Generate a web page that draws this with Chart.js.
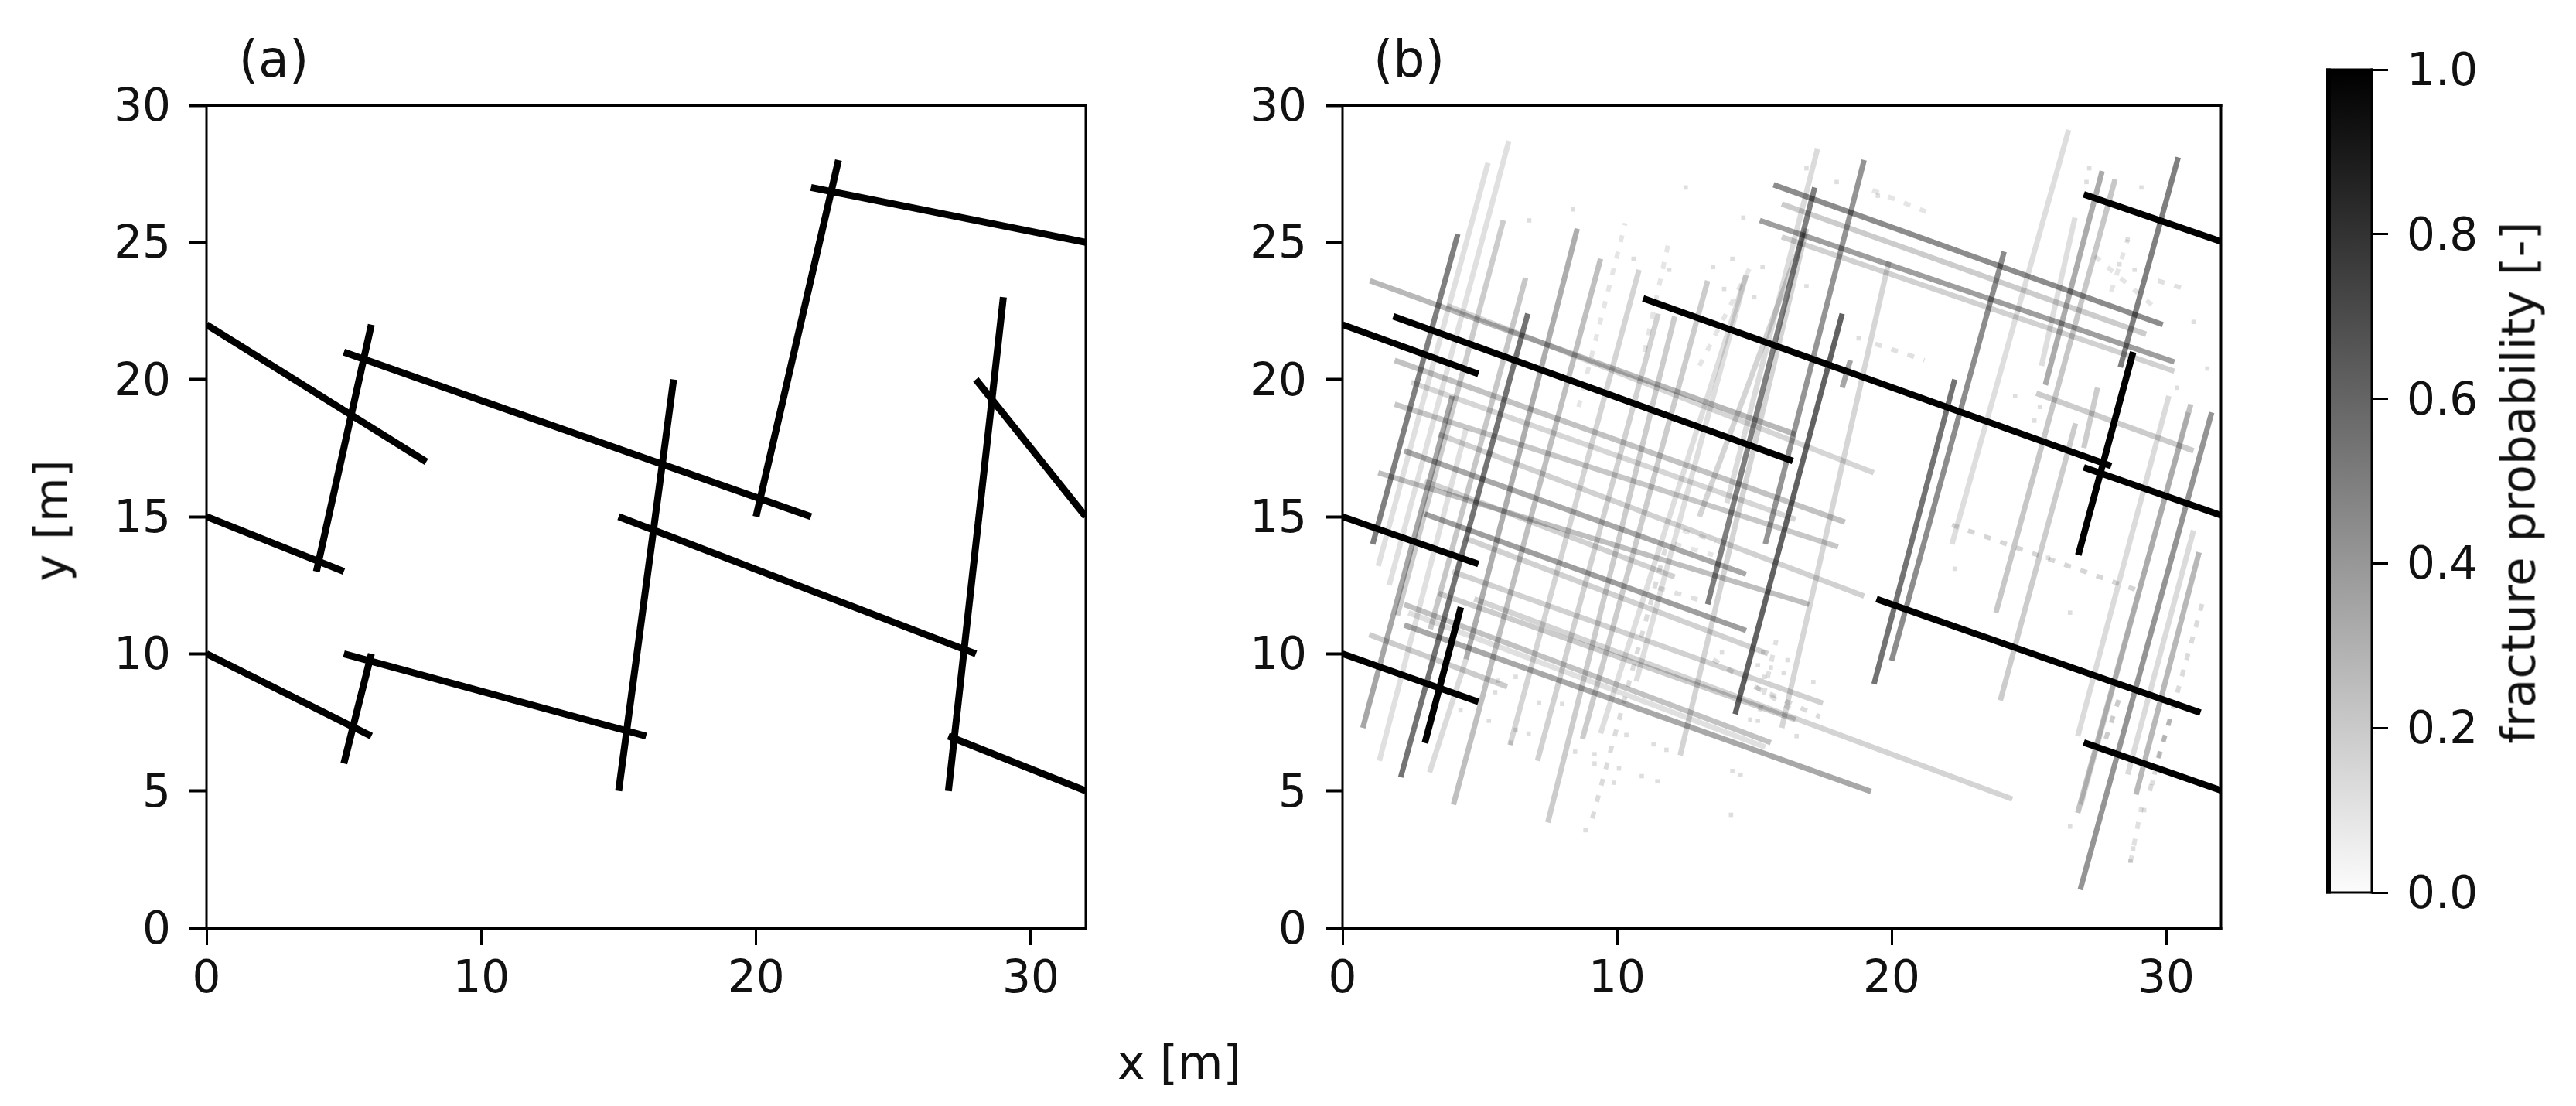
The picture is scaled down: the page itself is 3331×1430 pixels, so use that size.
<!DOCTYPE html>
<html><head><meta charset="utf-8">
<script src="https://cdn.jsdelivr.net/npm/chart.js@4"></script>
<style>
html,body{margin:0;padding:0;background:#fff;width:3331px;height:1430px;overflow:hidden}
canvas{position:absolute;top:0}
.lbl{position:absolute;font-family:"DejaVu Sans";color:#111;white-space:nowrap;transform:translate(-50%,-50%)}
.rot{transform:translate(-50%,-50%) rotate(-90deg)}
</style></head><body>
<canvas id="a" style="left:0"></canvas>
<canvas id="b" style="left:1500px"></canvas>
<canvas id="c" style="left:2900px"></canvas>
<div class="lbl" style="left:354px;top:76px;font-size:65px">(a)</div>
<div class="lbl" style="left:1822px;top:76px;font-size:65px">(b)</div>
<div class="lbl" style="left:1525px;top:1374px;font-size:60px">x [m]</div>
<div class="lbl rot" style="left:66px;top:673px;font-size:59px">y [m]</div>
<div class="lbl rot" style="left:3256px;top:624px;font-size:61px">fracture probability [-]</div>
<script>
const xTicksMax = 32, yTicksMax = 30;
const colorbarTicks = [0,0.2,0.4,0.6,0.8,1];

// panel (a): x1,y1,x2,y2
const fracturesA = [
 [0,22,8,17],[5,21,22,15],[15,15,28,10],[0,15,5,13],[0,10,6,7],[5,10,16,7],[27,7,32,5],[22,27,32,25],[28,20,32,15],
 [4,13,6,22],[5,6,6,10],[15,5,17,20],[20,15,23,28],[27,5,29,23]
];
// panel (b): x1,y1,x2,y2,probability
const certainB = [
 [0,22,4.95,20.2,1],[1.85,22.3,16.4,17.03,1],[10.95,22.96,28,16.85,1],[27,26.75,32,25.03,1],[27,16.8,32,15.05,1],
 [19.45,12,31.25,7.85,1],[27,6.77,32,5.02,1],[0,15,4.95,13.27,1],[0,10,4.95,8.25,1],
 [3,6.75,4.31,11.7,1],[26.8,13.6,28.8,21,1]
];
const steepB = [
 [1.1,14,4.2,25.3,.5],[2.12,5.5,6.75,22.4,.55],[0.74,7.3,4,19.4,.35],[4.5,9.8,8.55,25.5,.32],[3.17,5.68,4.5,9.8,.14],[4.04,4.5,9.4,24.4,.25],
 [7.48,3.85,12.1,22.3,.2],[7.1,6.1,11.5,22.4,.18],[6.1,6.67,10.8,24,.17],[8.74,6.9,13.3,23.6,.2],[9.4,7.1,14.7,23.8,.13],[10.7,9,14.7,23.8,.13],
 [12.3,6.3,16.9,25.5,.17],[13.3,11.8,17.2,27,.5],[14.3,7.8,18.2,22.4,.62],
 [15.4,14,19,28,.42],[16,7.3,19.9,24.3,.16],[18.2,19.7,18.5,20.7,.35],[14,15.5,17.3,28.4,.14],[1.7,12.5,6.06,28.7,.12],
 [1.3,13.2,5.3,27.9,.12],[2,11.4,5.86,25.8,.2],[3.2,10.9,6.67,23.7,.22],[1.34,6.1,4.5,18.2,.12],
 [13,15,16.85,25.4,.17],
 [28.33,20.45,30.44,28.1,.5],[25.6,19.8,27.67,27.6,.33],[23.8,11.5,28.14,27.3,.22],[22.2,14,26.45,29.1,.13],
 [23.96,8.3,26.7,18.4,.2],[27,17.5,27.5,19.7,.2],[25.46,20.5,26.68,25.9,.13],[19.36,8.9,22.3,20,.55],[20,9.75,24.1,24.66,.45],
 [26.87,1.4,31.66,18.8,.42],[26.78,4.2,30.9,19.1,.24],[26.9,4.5,30.8,18.8,.12],[28.9,4.87,31.2,13.7,.28],[26.78,7,30.1,19.4,.14],[28.6,5.6,31,14.5,.14]
];
const shallowB = [
 [15.7,27.1,29.88,22,.45],[16,26.4,29.27,21.65,.2],[15.2,25.8,30.3,20.64,.38],[16,25.2,30.3,20.3,.18],[1,23.6,16.5,18,.28],
 [3.8,22.7,19.35,16.6,.16],[3,21.9,16,17.2,.16],[1.9,20.7,18.3,14.8,.24],[2.5,19.9,16.5,14.9,.16],[1.9,19.1,18.05,13.9,.22],[2.25,17.4,14.7,12.9,.34],[1.3,16.6,17,11.8,.25],
 [3,16.3,12.1,12.8,.18],[3,15.1,14.7,10.85,.38],[3.5,18,19,12.1,.18],[2.25,11.05,19.25,4.98,.34],[2.25,11.8,15.6,6.76,.24],[2.4,11.5,15.4,6.6,.12],[0.97,10.7,6,8.8,.2],
 [4.8,12,24.4,4.7,.17],[4.5,14.2,15.5,10,.18],[4,13,17.5,8.2,.18],[3.5,12.2,16.5,7.6,.2],[25.27,19.5,31,17.4,.2]
];
// faint, broken traces of panel (b)
const brokenB = [
 [8.6,19,10.3,25.7,.1],[11,21,11.9,25.1,.1],[13,20.5,14.9,24.2,.1],[19.3,26.9,21.3,26.1,.1],[19.4,21.3,21.2,20.7,.12],
 [29.7,23.6,30.7,23.3,.12],[27.4,24.5,29.5,22.7,.1],[28,23.2,28.6,25.1,.1],[27.8,6.9,28.3,8.4,.2],[29.7,6.2,30.2,7.8,.18],
 [28.7,2.4,29.1,4.4,.12],[15.2,7.9,15.8,10.5,.12],[9.1,4,11.8,14,.14],[29.4,5,31.38,12.06,.14],[22.2,14.7,29,12.3,.16],
 [11.5,12.4,13.2,11.9,.12],[12.4,14.5,13.6,14.1,.1],[12.1,14,13.5,13.6,.1],[13.5,9.8,16.3,8,.12],[15,8.8,17.4,7.7,.14]
];
// isolated faint cells of panel (b): x,y
const cellsB = [
 [5.66,9.02],[6.31,9.16],[5.56,8.6],[7.16,8.22],[8,8.17],[6.31,7.23],[6.13,6.76],[6.78,7.09],[8.47,6.43],[9.18,6.34],[9.18,6],[10.07,5.82],[9.88,5.3],[8.85,3.57],[5.33,7.56],[4.3,7.94],
 [10.34,7.04],[11.33,6.7],[11.8,6.5],[10.9,5.54],[11.47,5.35],[14.2,5.73],[14.5,5.59],[14.15,4.13],[16.54,7],[17.15,8.97],[14.85,7.6],[15.13,7.56],[15.37,9.16],[15.6,9.5],[15.32,10.05],[15.13,9.58],[13.82,10.05],[16.07,9.3],[16.21,9.77],
 [18,27.2],[16.9,27.7],[14.6,25.9],[12.5,27],[13.5,24.1],[13.9,23.3],[10.6,24.4],[11.9,24],[14.2,24.4],[15.3,24.1],[15,23],[16.9,23.4],[8.4,26.2],[6.8,25.8],[19.5,26.7],[18.8,21.5],
 [27.2,27.7],[27.1,27.2],[29.1,27],[28.6,25.1],[28.3,24.2],[28.85,24],[31,22.1],[31.5,20.4],[30.4,19.7],[24.5,19.4],[25.4,19],[25.2,18.5],
 [26.5,11.5],[22.3,13.1],[25.7,13.5],[26.5,3.7],[28.8,2.9],[28.7,2.45],[29.5,5.3],[29.2,4.3]
];

const FONT = {family:'"DejaVu Sans"', size:58};

const frame = (id, l, r, t, b) => ({
  id,
  afterDatasetsDraw(ch){
    const {left,right,top,bottom} = ch.chartArea, g = ch.ctx;
    g.save(); g.fillStyle = '#000';
    g.fillRect(left-l/2, top-t/2, l, bottom-top+t/2+b/2);
    g.fillRect(right-r/2, top-t/2, r, bottom-top+t/2+b/2);
    g.fillRect(left-l/2, top-t/2, right-left+l/2+r/2, t);
    g.fillRect(left-l/2, bottom-b/2, right-left+l/2+r/2, b);
    g.restore();
  }
});
// digits sit slightly below the tick in the reference
const nudgeY = (id, dy) => ({
  id,
  beforeDraw(ch){
    if(ch.$nudged) return; ch.$nudged = true;
    ch.scales.y.getLabelItems().forEach(it=>{ it.options.translation[1] += dy; });
  }
});

function segDatasets(rows, w, dash){
  return rows.map(r => ({
    data:[{x:r[0],y:r[1]},{x:r[2],y:r[3]}],
    showLine:true, pointRadius:0, borderWidth:w,
    borderColor:`rgba(0,0,0,${r.length>4?r[4]:1})`,
    borderDash:dash||[], borderCapStyle:'butt'
  }));
}

function panel(id, cw, axisW, padR, datasets){
  const el = document.getElementById(id);
  el.width = cw; el.height = 1430;
  el.style.width = cw+'px'; el.style.height = '1430px';
  return new Chart(el,{
    type:'scatter',
    data:{datasets},
    plugins:[frame('fr'+id,3,3,4,4),nudgeY('nu'+id,5)],
    options:{
      responsive:false, animation:false, devicePixelRatio:1,
      layout:{padding:{top:136,right:padR,left:0,bottom:0}},
      plugins:{legend:{display:false},tooltip:{enabled:false},title:{display:false}},
      scales:{
        x:{type:'linear',min:0,max:xTicksMax,
          afterFit(s){s.height=230},
          border:{display:false},
          grid:{drawOnChartArea:false,drawTicks:true,tickLength:22,tickWidth:3,tickColor:'#000'},
          ticks:{stepSize:10,includeBounds:false,autoSkip:false,maxRotation:0,color:'#111',font:FONT,padding:11}},
        y:{type:'linear',min:0,max:yTicksMax,
          afterFit(s){s.width=axisW},
          border:{display:false},
          grid:{drawOnChartArea:false,drawTicks:true,tickLength:22,tickWidth:4,tickColor:'#000'},
          ticks:{stepSize:5,autoSkip:false,color:'#111',font:FONT,padding:24}}
      }
    }
  });
}

panel('a',1500,267,96,segDatasets(fracturesA,9));
const lightFirst = a => [...a].sort((p,q)=>p[4]-q[4]);
panel('b',1450,236,78,[
  {data:cellsB.map(c=>({x:c[0],y:c[1]})),pointStyle:'rect',pointRadius:4,pointBorderWidth:0,pointBackgroundColor:'rgba(0,0,0,.13)'},
  ...segDatasets(brokenB,6,[9,13]),
  ...segDatasets(lightFirst([...steepB,...shallowB]),7),
  ...segDatasets(certainB,8.5)
]);

// colour bar
const cbEl = document.getElementById('c');
cbEl.width = 431; cbEl.height = 1430;
cbEl.style.width='431px'; cbEl.style.height='1430px';
new Chart(cbEl,{
  type:'bar',
  data:{labels:['p'],datasets:[{
    data:[[colorbarTicks[0],colorbarTicks[colorbarTicks.length-1]]],
    barPercentage:1,categoryPercentage:1,borderWidth:0,
    backgroundColor(ctx){
      const a = ctx.chart.chartArea;
      if(!a) return '#888';
      const g = ctx.chart.ctx.createLinearGradient(0,a.bottom,0,a.top);
      g.addColorStop(0,'#fcfcfc'); g.addColorStop(1,'#000');
      return g;
    }
  }]},
  plugins:[frame('frc',6,3,3,3),nudgeY('nuc',5)],
  options:{
    responsive:false,animation:false,devicePixelRatio:1,
    layout:{padding:{top:90,left:111,right:0,bottom:0}},
    plugins:{legend:{display:false},tooltip:{enabled:false}},
    scales:{
      x:{display:false,afterFit(s){s.height=276}},
      y:{type:'linear',position:'right',min:0,max:1,
        afterFit(s){s.width=264},
        border:{display:false},
        afterBuildTicks(s){s.ticks=colorbarTicks.map(v=>({value:v}))},
        grid:{drawOnChartArea:false,drawTicks:true,tickLength:21,tickWidth:3,tickColor:'#000'},
        ticks:{autoSkip:false,color:'#111',font:FONT,padding:24,callback:v=>v.toFixed(1)}}
    }
  }
});
</script>
</body></html>
